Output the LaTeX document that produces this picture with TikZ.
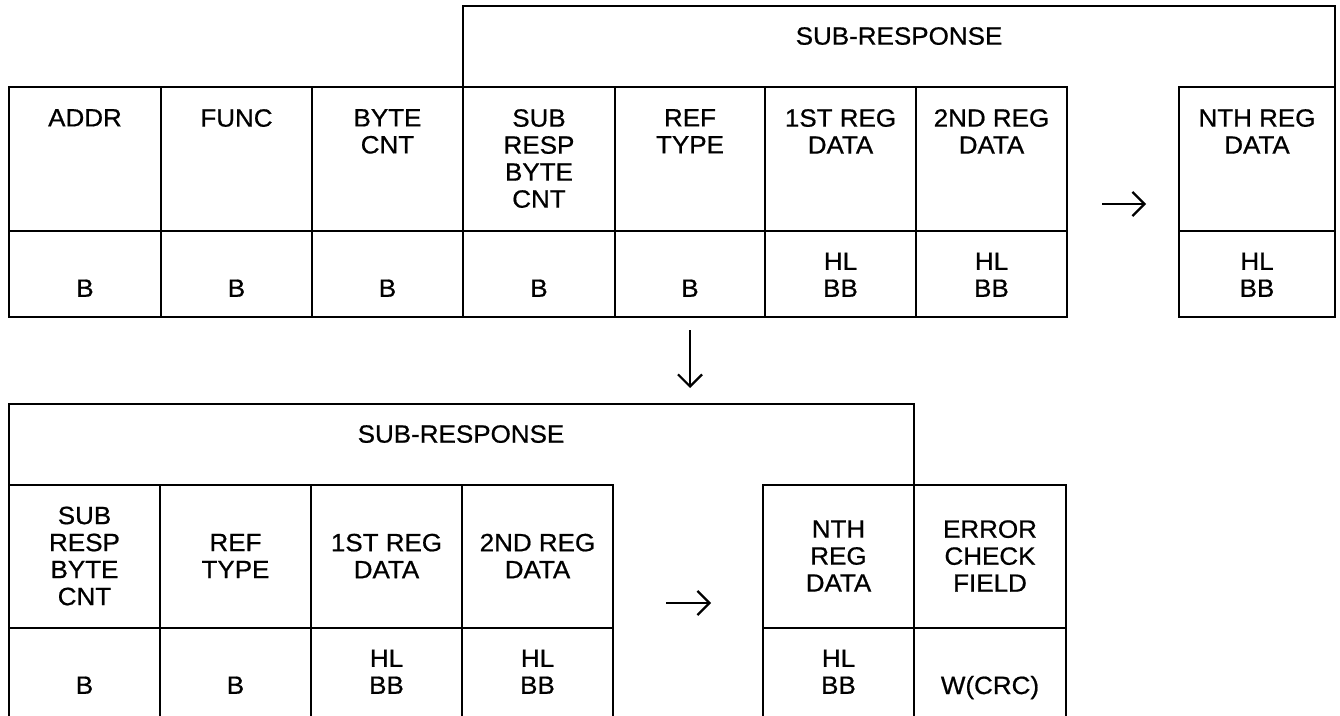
\documentclass[tikz,border=0pt]{standalone}
\usepackage{fontspec}
\setmainfont{Liberation Sans}[FakeBold=0.7, FakeStretch=1.04]
\usetikzlibrary{arrows.meta}

% Upper row field: name, left x, right x, field name text, size text
\newcommand\topfield[5]{%
  \draw[frame] (#2,87) rectangle (#3,317);
  \draw[frame] (#2,231) -- (#3,231);
  \node[lbl, anchor=north] (#1-name) at ({(#2+#3)/2},109) {#4};
  \node[lbl, anchor=south] (#1-size) at ({(#2+#3)/2},297) {#5};
}
% Lower row field (runs off the bottom edge of the page)
\newcommand\botfield[5]{%
  \draw[frame] (#2,720) -- (#2,485) -- (#3,485) -- (#3,720);
  \draw[frame] (#2,628) -- (#3,628);
  \node[lbl] (#1-name) at ({(#2+#3)/2},556) {#4};
  \node[lbl, anchor=south] (#1-size) at ({(#2+#3)/2},694) {#5};
}

\begin{document}
\begin{tikzpicture}[x=1pt, y=-1pt,
  frame/.style={line width=2.6pt, line join=miter},
  lbl/.style={inner sep=0pt, align=center, font=\fontsize{25}{27}\selectfont},
  flow/.style={line width=2.2pt, -{Straight Barb[length=12pt,width=24pt,line width=2.2pt]}}]
\useasboundingbox (0,0) rectangle (1340,715);

% ---------- upper message part ----------
\draw[frame] (463,87) -- (463,6) -- (1335,6) -- (1335,87);
\node[lbl, anchor=north] (sub1) at (899,27) {SUB-RESPONSE};

\topfield{addr}{9}{161}{ADDR}{B}
\topfield{func}{161}{312}{FUNC}{B}
\topfield{bcnt}{312}{463}{BYTE\\CNT}{B}
\topfield{srbc}{463}{615}{SUB\\RESP\\BYTE\\CNT}{B}
\topfield{rtyp}{615}{765}{REF\\TYPE}{B}
\topfield{reg1}{765}{916}{1ST REG\\DATA}{HL\\BB}
\topfield{reg2}{916}{1067}{2ND REG\\DATA}{HL\\BB}
\topfield{regn}{1179}{1335}{NTH REG\\DATA}{HL\\BB}

\coordinate (ta) at (1102,204);
\coordinate (tb) at (1146,204);
\draw[flow] (ta) -- (tb);

% ---------- continuation ----------
\coordinate (da) at (690,330);
\coordinate (db) at (690,388);
\draw[flow] (da) -- (db);

% ---------- lower message part ----------
\draw[frame] (9,485) -- (9,404) -- (914,404) -- (914,485);
\node[lbl, anchor=north] (sub2) at (461,425) {SUB-RESPONSE};

\botfield{bsrbc}{9}{160}{SUB\\RESP\\BYTE\\CNT}{B}
\botfield{brtyp}{160}{311}{REF\\TYPE}{B}
\botfield{breg1}{311}{462}{1ST REG\\DATA}{HL\\BB}
\botfield{breg2}{462}{613}{2ND REG\\DATA}{HL\\BB}
\botfield{bregn}{763}{914}{NTH\\REG\\DATA}{HL\\BB}

% error check field (its size text sits on the common baseline)
\draw[frame] (914,720) -- (914,485) -- (1066,485) -- (1066,720);
\draw[frame] (914,628) -- (1066,628);
\node[lbl] (crc-name) at (990,556) {ERROR\\CHECK\\FIELD};
\node[lbl, anchor=base] (crc-size) at (990,694) {W(CRC)};

\coordinate (ba) at (666,603);
\coordinate (bb) at (711,603);
\draw[flow] (ba) -- (bb);
\end{tikzpicture}
\end{document}
